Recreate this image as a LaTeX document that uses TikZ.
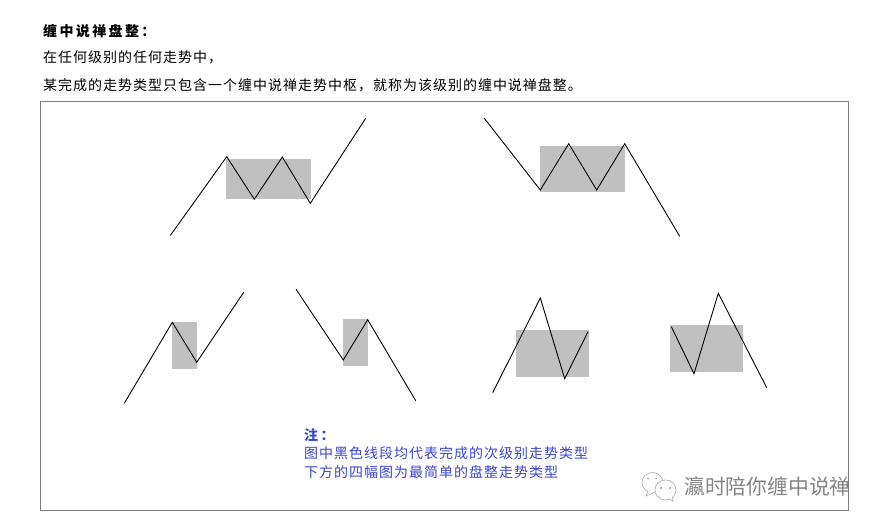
\documentclass[tikz,border=0pt]{standalone}
\usepackage{fontspec}
\setmainfont{Noto Sans CJK SC}
\newfontfamily\bodyfont[LetterSpace=7.1]{Noto Sans CJK SC}
\newfontfamily\headfont[LetterSpace=17]{Noto Sans CJK SC}
\newfontfamily\notefont{Noto Sans CJK SC}
\definecolor{zone}{HTML}{C0C0C0}
\definecolor{frameline}{HTML}{808080}
\definecolor{notecol}{HTML}{3A46D0}
\definecolor{markcol}{HTML}{858585}
\definecolor{iconcol}{HTML}{B4B4B4}
\tikzset{
  px/.style={x=1pt,y=-1pt},
  zonebox/.style={fill=zone,draw=none},
  trend/.style={draw=black,line width=0.9pt,line join=miter},
  headtext/.style={anchor=west,inner sep=0pt,font=\fontsize{14pt}{14pt}\bodyfont,text=black},
  notetext/.style={anchor=west,inner sep=0pt,font=\fontsize{14pt}{14pt}\bodyfont,text=notecol},
  marktext/.style={anchor=west,inner sep=0pt,font=\fontsize{20.8pt}{20.8pt}\notefont,text=markcol},
  bubble/.style={draw=iconcol,line width=0.7pt,fill=white}
}
\begin{document}
\begin{tikzpicture}[px]
\useasboundingbox (0,0) rectangle (879,526);
\fill[white] (0,0) rectangle (879,526);
\node[headtext,font=\fontsize{14pt}{14pt}\headfont\bfseries] (title) at (43,31) {缠中说禅盘整：};
\node[headtext] (lineone) at (43,57) {在任何级别的任何走势中，};
\node[headtext] (linetwo) at (43,85) {某完成的走势类型只包含一个缠中说禅走势中枢，就称为该级别的缠中说禅盘整。};
\draw[frameline,line width=0.9pt] (40.5,101.5) rectangle (848.5,510.5);
% zones
\fill[zonebox] (226,159) rectangle (311,199);
\fill[zonebox] (540,146) rectangle (625,192);
\fill[zonebox] (172,322) rectangle (197,369);
\fill[zonebox] (343,319) rectangle (368,366);
\fill[zonebox] (516,330) rectangle (589,377);
\fill[zonebox] (670,325) rectangle (743,372);
% trends
\draw[trend] (170.3,235.5) -- (226.7,156.7) -- (254.3,199.3) -- (282.3,157) -- (310.3,203.3) -- (365.7,118.3);
\draw[trend] (484.3,118.3) -- (540.3,190) -- (568.7,143.7) -- (596.7,190) -- (624.7,143.7) -- (679.7,236.3);
\draw[trend] (124.3,403.3) -- (172.3,322.3) -- (196.7,362.3) -- (243.7,292.3);
\draw[trend] (296,289.3) -- (343.3,360) -- (367.7,319.7) -- (415.7,400.7);
\draw[trend] (492.7,392.7) -- (540.3,298) -- (564.7,378.7) -- (588,331.7);
\draw[trend] (671.3,326.7) -- (694,373.7) -- (718.3,293.3) -- (766.7,387.7);
% note
\node[notetext,font=\fontsize{14pt}{14pt}\headfont\bfseries] (notehead) at (304,435) {注：};
\node[notetext] (noteone) at (304,453) {图中黑色线段均代表完成的次级别走势类型};
\node[notetext] (notetwo) at (304,472) {下方的四幅图为最简单的盘整走势类型};
% watermark
\draw[bubble] (652.5,482.5) ellipse (10.5 and 10);
\draw[bubble] (648,491) -- (646,496) -- (654,492.5);
\draw[bubble] (665.5,490) ellipse (10.5 and 10);
\draw[bubble] (669,499) -- (673,501) -- (672.5,497);
\fill[iconcol] (648,478.5) circle (1) (656,478.5) circle (1);
\fill[markcol] (661,488) circle (1) (670,488) circle (1);
\node[marktext] (mark) at (684,487) {瀛时陪你缠中说禅};
\end{tikzpicture}
\end{document}
